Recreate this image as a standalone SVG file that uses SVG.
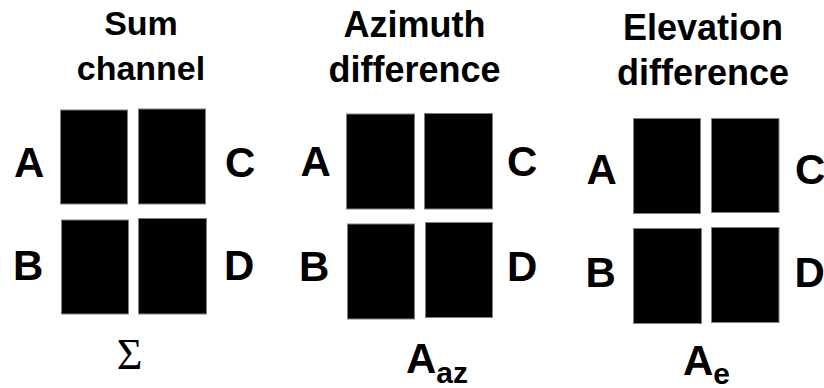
<svg xmlns="http://www.w3.org/2000/svg" width="824" height="388" viewBox="0 0 824 388">
<style>
.t{font-family:"Liberation Sans",Arial,sans-serif;font-weight:bold;fill:#000;text-anchor:middle}
.l{font-family:"Liberation Sans",Arial,sans-serif;font-weight:bold;fill:#000;font-size:42px}
.p{fill:#000;stroke:#808080;stroke-width:1}
.s{font-family:"Liberation Serif","Times New Roman",serif;fill:#000;font-size:44px;text-anchor:middle}
</style>
<rect width="824" height="388" fill="#fff"/>
<g id="sum">
<text class="t" x="141" y="34.5" font-size="34">Sum</text>
<text class="t" x="141" y="80" font-size="34">channel</text>
<rect class="p" x="60.5" y="110" width="67" height="94"/>
<rect class="p" x="138.5" y="109" width="67" height="95"/>
<rect class="p" x="61.5" y="220" width="67" height="94"/>
<rect class="p" x="138.5" y="218.5" width="68" height="95.5"/>
<text class="l" x="14" y="177">A</text>
<text class="l" x="225" y="177">C</text>
<text class="l" x="13" y="280">B</text>
<text class="l" x="224" y="280">D</text>
<text class="s" x="129.5" y="369">Σ</text>
</g>
<g id="azimuth">
<text class="t" x="414.5" y="36.7" font-size="36">Azimuth</text>
<text class="t" x="414.5" y="81.7" font-size="36">difference</text>
<rect class="p" x="346.5" y="114" width="68" height="95"/>
<rect class="p" x="424.5" y="113.5" width="68" height="95.5"/>
<rect class="p" x="347.5" y="224" width="67" height="95"/>
<rect class="p" x="425.5" y="222.5" width="67" height="95"/>
<text class="l" x="300.5" y="176">A</text>
<text class="l" x="507" y="176">C</text>
<text class="l" x="299" y="280.7">B</text>
<text class="l" x="507" y="280.7">D</text>
<text class="l" x="406" y="373.3">A<tspan font-size="30" dy="9.5">az</tspan></text>
</g>
<g id="elevation">
<text class="t" x="703" y="40" font-size="36">Elevation</text>
<text class="t" x="703" y="85" font-size="36">difference</text>
<rect class="p" x="633.5" y="118.5" width="67" height="95"/>
<rect class="p" x="711.5" y="118.5" width="67.5" height="94"/>
<rect class="p" x="633.5" y="228.5" width="68" height="95"/>
<rect class="p" x="711.5" y="227.5" width="67.5" height="95"/>
<text class="l" x="586.5" y="184">A</text>
<text class="l" x="795" y="184">C</text>
<text class="l" x="585.5" y="287">B</text>
<text class="l" x="794.5" y="287">D</text>
<text class="l" x="683" y="375">A<tspan font-size="30" dy="8.5">e</tspan></text>
</g>
<g id="connectors"></g>
</svg>
